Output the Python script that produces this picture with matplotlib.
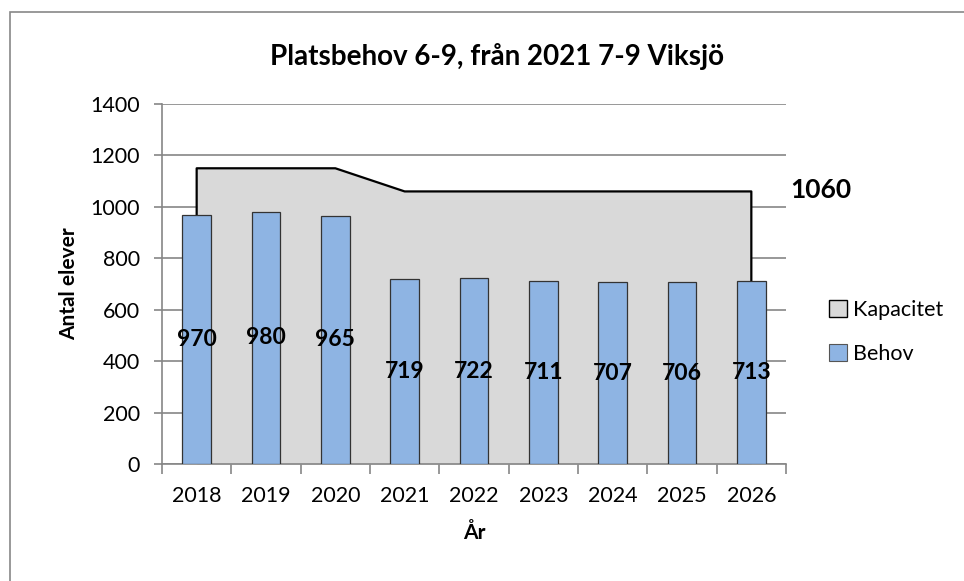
import numpy as np
import matplotlib.pyplot as plt
from matplotlib.patches import Rectangle

# Data
years = ['2018', '2019', '2020', '2021', '2022', '2023', '2024', '2025', '2026']
behov = [970, 980, 965, 719, 722, 711, 707, 706, 713]
kapacitet = [1150, 1150, 1150, 1060, 1060, 1060, 1060, 1060, 1060]

plt.rcParams['font.family'] = ['Lato', 'DejaVu Sans']

fig = plt.figure(figsize=(9.64, 5.81), dpi=100)
ax = fig.add_axes([162 / 964, 1 - 464 / 581, 624 / 964, 360 / 581])

x = np.arange(len(years))
grid_col = '#868686'

# Kapacitet area
ax.fill_between(x, kapacitet, color='#D9D9D9', zorder=1, lw=0)
ax.plot(np.r_[x[0], x, x[-1]], np.r_[0, kapacitet, 0], color='black', lw=1.6, zorder=2)

# Behov bars
bars = ax.bar(x, behov, width=0.41, color='#8EB4E3', edgecolor='#333333', lw=0.9, zorder=3)
ax.bar_label(bars, labels=[str(v) for v in behov], label_type='center',
             fontsize=16.5, fontweight='bold', zorder=4,
             family=['Liberation Sans Narrow', 'Lato'])

# "1060" label at end of the area
ax.annotate(str(kapacitet[-1]), xy=(x[-1], kapacitet[-1]), xytext=(28, 1),
            textcoords='offset points', fontsize=19, fontweight='bold',
            ha='left', va='center', annotation_clip=False)

ax.set_xlim(-0.5, len(years) - 0.5)
ax.set_ylim(0, 1400)
ax.set_yticks(np.arange(0, 1401, 200))
ax.set_xticks(x)
ax.set_xticklabels(years)
ax.set_xticks(np.arange(-0.5, len(years), 1), minor=True)
ax.tick_params(axis='x', which='major', length=0, pad=16, labelsize=15.5)
ax.tick_params(axis='x', which='minor', length=7, color=grid_col, width=1.2)
ax.tick_params(axis='y', length=6, color=grid_col, width=1.2, labelsize=15.5, pad=10)

ax.yaxis.grid(True, color=grid_col, lw=1.2, zorder=0)
ax.set_axisbelow(True)
for side in ['top', 'right']:
    ax.spines[side].set_visible(False)
for side in ['left', 'bottom']:
    ax.spines[side].set_color(grid_col)
    ax.spines[side].set_linewidth(1.2)

ax.set_xlabel('År', fontsize=15, fontweight='bold', labelpad=12)
ax.set_ylabel('Antal elever', fontsize=15, fontweight='bold', labelpad=8)
fig.text(497 / 964, 1 - 57 / 581, 'Platsbehov 6-9, från 2021 7-9 Viksjö',
         ha='center', va='center', fontsize=20, fontweight='bold')

# Legend
handles = [Rectangle((0, 0), 1, 1, facecolor='#D9D9D9', edgecolor='black', lw=1),
           Rectangle((0, 0), 1, 1, facecolor='#8EB4E3', edgecolor='#555555', lw=0.8)]
fig.legend(handles, ['Kapacitet', 'Behov'], loc='center left',
           bbox_to_anchor=(810 / 964, 1 - 332 / 581), frameon=False, fontsize=15.5,
           handlelength=0.8, handleheight=0.8, handletextpad=0.3, labelspacing=1.1)

# Outer chart border
fig.add_artist(Rectangle((10 / 964, -0.1), 1.2, 1 - 12 / 581 + 0.1,
                         transform=fig.transFigure, fill=False,
                         edgecolor='#888888', lw=1.2))

fig.savefig('out.png', dpi=100)
